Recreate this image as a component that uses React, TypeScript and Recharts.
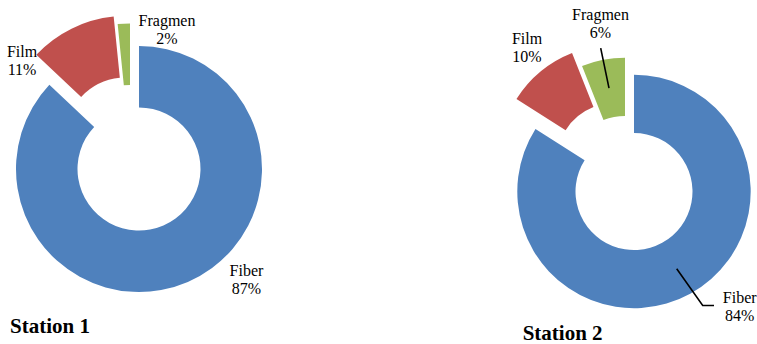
import React from 'react';
import { PieChart, Pie, Cell } from 'recharts';

const CATEGORIES = ['Fiber', 'Film', 'Fragmen'];
const STATION_1 = [87, 11.4, 1.6];
const STATION_2 = [84, 10, 6];
const TITLES = ['Station 1', 'Station 2'];

const COLORS = ['#4F81BD', '#C0504D', '#9BBB59'];
const FONT = 'Liberation Serif, Times New Roman, serif';

const toData = (values: number[]) => CATEGORIES.map((name, i) => ({ name, value: values[i] }));

// pie geometry + hand placed labels (offsets relative to the pie centre)
const STATIONS = [
  {
    data: toData(STATION_1),
    cx: 139,
    cy: 169,
    outer: 123,
    inner: 61.5,
    explode: [[0, 0], [-13, -30], [-9, -22.5]],
    labels: [
      { dx: 107.5, dy: 107 },
      { dx: -117, dy: -112 },
      { dx: 28, dy: -143 },
    ],
    title: { x: 10, y: 333 },
  },
  {
    data: toData(STATION_2),
    cx: 634,
    cy: 191.5,
    outer: 116.7,
    inner: 58.5,
    explode: [[0, 0], [-19, -30], [-9, -17]],
    labels: [
      { dx: 105.7, dy: 111.5, line: [[42.7, 77.3], [68.7, 114], [80, 114]] },
      { dx: -107, dy: -147.5 },
      { dx: -33.5, dy: -171.5, line: [[-33.3, -143.4], [-25, -103.4]] },
    ],
    title: { x: 522.7, y: 340 },
  },
];

const makeLabel = (st: any, slice: number) => (props: any) => {
  if (props.index !== slice) return <g />;
  const lab = st.labels[slice];
  const x = st.cx + lab.dx;
  const y = st.cy + lab.dy;
  const pct = Math.round(props.percent * 100);
  return (
    <g style={{ fontFamily: FONT }}>
      {lab.line && (
        <polyline
          points={lab.line.map((p: number[]) => `${st.cx + p[0]},${st.cy + p[1]}`).join(' ')}
          fill="none"
          stroke="#000"
          strokeWidth={1.6}
        />
      )}
      <text x={x} y={y} textAnchor="middle" fontFamily={FONT} fontSize={16} fill="#000" stroke="none">
        <tspan x={x} dy={0} fontFamily={FONT}>{props.name}</tspan>
        <tspan x={x} dy={18} fontFamily={FONT}>{pct}%</tspan>
      </text>
    </g>
  );
};

export default function App() {
  return (
    <div style={{ position: 'absolute', left: 0, top: 0, width: 757, height: 344, background: '#fff', fontFamily: FONT }}>
      <PieChart width={757} height={344} margin={{ top: 0, right: 0, bottom: 0, left: 0 }} style={{ fontFamily: FONT }}>
        {STATIONS.map((st, s) =>
          CATEGORIES.map((_, slice) => (
            <Pie
              key={`pie-${s}-${slice}`}
              data={st.data}
              dataKey="value"
              nameKey="name"
              cx={st.cx + st.explode[slice][0]}
              cy={st.cy + st.explode[slice][1]}
              innerRadius={st.inner}
              outerRadius={st.outer}
              startAngle={90}
              endAngle={-270}
              stroke="none"
              label={makeLabel(st, slice)}
              labelLine={false}
              isAnimationActive={false}
            >
              {st.data.map((entry, i) => (
                <Cell key={`cell-${i}`} fill={i === slice ? COLORS[i] : 'none'} />
              ))}
            </Pie>
          ))
        )}
      </PieChart>
      <svg width={757} height={344} style={{ position: 'absolute', left: 0, top: 0, pointerEvents: 'none' }}>
        {STATIONS.map((st, s) => (
          <text key={`title-${s}`} x={st.title.x} y={st.title.y} fontFamily={FONT} fontSize={21} fontWeight="bold" fill="#000">
            {TITLES[s]}
          </text>
        ))}
      </svg>
    </div>
  );
}
